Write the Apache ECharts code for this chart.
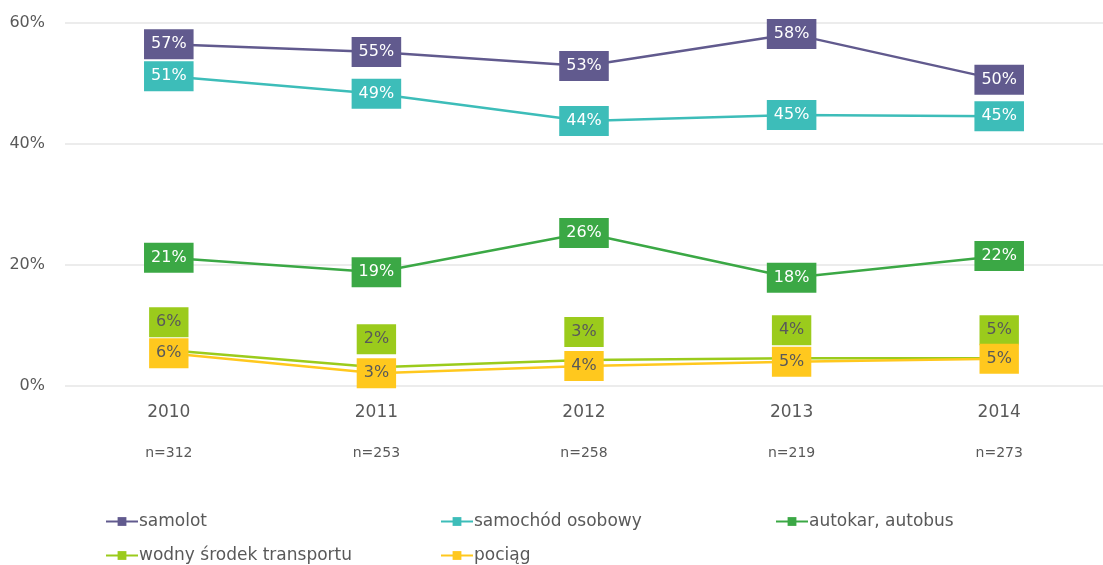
<!DOCTYPE html>
<html>
<head>
<meta charset="utf-8">
<script src="https://cdn.jsdelivr.net/npm/echarts@6/dist/echarts.min.js"></script>
<style>
  html, body { margin: 0; padding: 0; background: #fff; }
  #chart { width: 1103px; height: 565px; }
</style>
</head>
<body>
<div id="chart"></div>
<script>
// dane z wykresu
let years = ['2010', '2011', '2012', '2013', '2014']
let nCounts = ['n=312', 'n=253', 'n=258', 'n=219', 'n=273']
let yTicks = [0, 20, 40, 60]

let samolot = [56.5, 55.2, 52.9, 58.2, 50.6]
let samochod = [51.2, 48.3, 43.8, 44.8, 44.6]
let autokar = [21.2, 18.8, 25.3, 17.9, 21.5]
let wodny = [5.9, 3.1, 4.3, 4.6, 4.6]
let pociag = [5.4, 2.1, 3.3, 4.0, 4.5]

// etykiety tak jak na obrazku
let labSamolot = [57, 55, 53, 58, 50]
let labSamochod = [51, 49, 44, 45, 45]
let labAutokar = [21, 19, 26, 18, 22]
let labWodny = [6, 2, 3, 4, 5]
let labPociag = [6, 3, 4, 5, 5]

let names = ['samolot', 'samochód osobowy', 'autokar, autobus', 'wodny środek transportu', 'pociąg']
let colors = ['#615a8e', '#3dbdb9', '#3ba845', '#9bcb1c', '#ffc81e']

let font = 'DejaVu Sans'
let gray = '#595959'

function makeSeries(idx, data, labels, textColor, offsetY) {
    return {
        name: names[idx],
        type: 'line',
        data: data,
        symbol: 'rect',
        symbolSize: 8,
        lineStyle: { color: colors[idx], width: 2.5 },
        itemStyle: { color: colors[idx] },
        z: 2 + idx,
        label: {
            show: true,
            position: 'inside',
            offset: [0, offsetY],
            formatter: function (p) { return labels[p.dataIndex] + '%' },
            backgroundColor: colors[idx],
            color: textColor,
            fontFamily: font,
            fontSize: 16,
            padding: [7, 7, 7, 7]
        },
        emphasis: { disabled: true }
    }
}

let legendPos = [[100, 508], [435, 508], [770, 508], [100, 542], [435, 542]]
let legends = []
for (let i = 0; i < names.length; i++) {
    legends.push({
        data: [names[i]],
        left: legendPos[i][0],
        top: legendPos[i][1],
        itemWidth: 32,
        itemHeight: 11,
        itemGap: 2,
        textStyle: { color: gray, fontSize: 17, fontFamily: font, padding: [0, 0, 0, -4] }
    })
}

let chart = echarts.init(document.getElementById('chart'))
let option = {
    animation: false,
    grid: { left: 65, top: 23, width: 1050, height: 363 },
    legend: legends,
    xAxis: {
        type: 'category',
        data: years,
        axisLine: { show: false },
        axisTick: { show: false },
        axisLabel: {
            margin: 15,
            formatter: function (v, i) { return '{a|' + v + '}\n{b|' + nCounts[i] + '}' },
            rich: {
                a: { color: gray, fontSize: 17, fontFamily: font, lineHeight: 24 },
                b: { color: gray, fontSize: 14, fontFamily: font, lineHeight: 56 }
            }
        }
    },
    yAxis: {
        type: 'value',
        min: yTicks[0],
        max: yTicks[yTicks.length - 1],
        interval: 20,
        axisLine: { show: false },
        axisTick: { show: false },
        splitLine: { lineStyle: { color: '#e6e6e6', width: 1.5 } },
        axisLabel: { formatter: '{value}%', color: gray, fontSize: 16, fontFamily: font, margin: 20 }
    },
    series: [
        makeSeries(0, samolot, labSamolot, '#fff', 0),
        makeSeries(1, samochod, labSamochod, '#fff', 0),
        makeSeries(2, autokar, labAutokar, '#fff', 0),
        makeSeries(3, wodny, labWodny, gray, -28),
        makeSeries(4, pociag, labPociag, gray, 0)
    ]
}
chart.setOption(option)
</script>
</body>
</html>
